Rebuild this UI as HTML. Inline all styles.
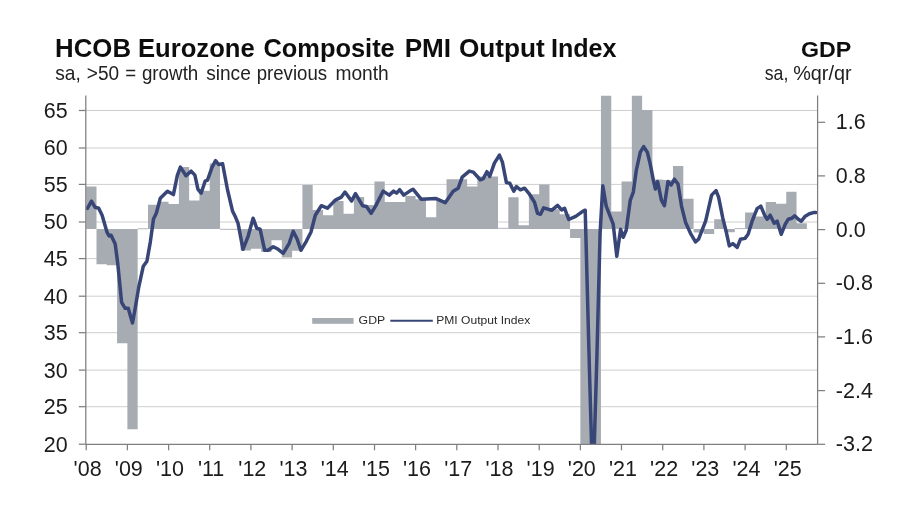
<!DOCTYPE html>
<html lang="en"><head><meta charset="utf-8"><title>HCOB Eurozone Composite PMI Output Index</title>
<style>html,body{margin:0;padding:0;background:#fff}body{width:900px;height:508px;overflow:hidden}svg{display:block;font-family:"Liberation Sans",sans-serif}</style></head><body>
<svg width="900" height="508" viewBox="0 0 900 508">
<defs><clipPath id="pc"><rect x="85.8" y="95.5" width="731.8" height="348.8"/></clipPath><filter id="bl" x="-5%" y="-5%" width="110%" height="110%"><feGaussianBlur stdDeviation="0.45"/></filter></defs>
<rect width="900" height="508" fill="#fff"/>
<g filter="url(#bl)">
<g stroke="#cecece" stroke-width="1">
<line x1="85.8" y1="406.7" x2="817.6" y2="406.7"/>
<line x1="85.8" y1="370.1" x2="817.6" y2="370.1"/>
<line x1="85.8" y1="332.7" x2="817.6" y2="332.7"/>
<line x1="85.8" y1="296.2" x2="817.6" y2="296.2"/>
<line x1="85.8" y1="258.6" x2="817.6" y2="258.6"/>
<line x1="85.8" y1="222.0" x2="817.6" y2="222.0"/>
<line x1="85.8" y1="184.4" x2="817.6" y2="184.4"/>
<line x1="85.8" y1="148.0" x2="817.6" y2="148.0"/>
<line x1="85.8" y1="110.5" x2="817.6" y2="110.5"/>
</g>
<g fill="#a7abb2" clip-path="url(#pc)">
<path d="M86.20,229.00 L86.20,186.60 L96.50,186.60 L96.50,264.20 L106.79,264.20 L106.79,265.20 L117.09,265.20 L117.09,343.20 L127.38,343.20 L127.38,429.20 L137.67,429.20 L137.67,229.00 L147.97,229.00 L147.97,204.70 L158.26,204.70 L158.26,201.80 L168.56,201.80 L168.56,203.90 L178.85,203.90 L178.85,167.10 L189.15,167.10 L189.15,200.60 L199.44,200.60 L199.44,190.70 L209.74,190.70 L209.74,163.50 L220.03,163.50 L220.03,229.00 L230.33,229.00 L230.33,229.00 L240.62,229.00 L240.62,250.60 L250.92,250.60 L250.92,248.70 L261.22,248.70 L261.22,251.90 L271.51,251.90 L271.51,240.30 L281.81,240.30 L281.81,257.60 L292.10,257.60 L292.10,250.70 L302.40,250.70 L302.40,185.00 L312.69,185.00 L312.69,210.00 L322.99,210.00 L322.99,215.20 L333.28,215.20 L333.28,201.00 L343.57,201.00 L343.57,213.80 L353.87,213.80 L353.87,197.00 L364.16,197.00 L364.16,205.00 L374.46,205.00 L374.46,181.60 L384.75,181.60 L384.75,202.00 L395.05,202.00 L395.05,202.00 L405.34,202.00 L405.34,196.00 L415.64,196.00 L415.64,199.20 L425.94,199.20 L425.94,217.30 L436.23,217.30 L436.23,200.20 L446.52,200.20 L446.52,179.20 L456.82,179.20 L456.82,179.20 L467.12,179.20 L467.12,186.60 L477.41,186.60 L477.41,176.50 L487.70,176.50 L487.70,176.50 L498.00,176.50 L498.00,229.00 L508.30,229.00 L508.30,197.20 L518.59,197.20 L518.59,225.30 L528.88,225.30 L528.88,194.20 L539.18,194.20 L539.18,184.60 L549.48,184.60 L549.48,209.30 L559.77,209.30 L559.77,214.30 L570.07,214.30 L570.07,238.00 L580.36,238.00 L580.36,444.00 L590.65,444.00 L590.65,444.00 L600.95,444.00 L600.95,95.50 L611.25,95.50 L611.25,211.60 L621.54,211.60 L621.54,181.50 L631.84,181.50 L631.84,95.50 L642.13,95.50 L642.13,110.00 L652.43,110.00 L652.43,179.50 L662.72,179.50 L662.72,180.00 L673.01,180.00 L673.01,165.90 L683.31,165.90 L683.31,198.70 L693.61,198.70 L693.61,232.40 L703.90,232.40 L703.90,233.90 L714.20,233.90 L714.20,219.20 L724.49,219.20 L724.49,232.20 L734.79,232.20 L734.79,229.00 L745.08,229.00 L745.08,212.60 L755.38,212.60 L755.38,216.60 L765.67,216.60 L765.67,202.10 L775.97,202.10 L775.97,203.70 L786.26,203.70 L786.26,191.70 L796.55,191.70 L796.55,223.20 L806.85,223.20 L806.85,229.00 Z"/>
<rect x="137.67" y="228.20" width="10.29" height="1.1" fill="#b9bcc1"/>
<rect x="220.03" y="228.80" width="10.29" height="1.1" fill="#b9bcc1"/>
<rect x="230.33" y="228.80" width="10.29" height="1.1" fill="#b9bcc1"/>
<rect x="498.00" y="227.80" width="10.30" height="1.1" fill="#b9bcc1"/>
<rect x="734.79" y="228.00" width="10.29" height="1.1" fill="#b9bcc1"/>
</g>
<polyline clip-path="url(#pc)" fill="none" stroke="#374577" stroke-width="3.5" stroke-linejoin="round" stroke-linecap="round" points="87.4,208.3 91.5,201.2 95.1,207.3 98.7,208.3 102.1,215.3 107.1,232.4 109.1,236.0 111.1,235.2 115.2,244.0 117.6,262.2 119.6,282.2 121.6,302.3 125.2,308.3 128.2,308.3 132.5,323.0 135.2,308.3 138.9,286.3 143.3,266.2 146.9,261.2 150.3,242.1 153.5,219.0 156.3,213.3 160.3,198.2 167.4,191.2 173.4,194.6 177.4,175.1 180.4,167.1 186.0,175.7 191.1,171.1 194.9,175.1 197.9,189.2 201.1,193.2 205.1,181.2 207.5,180.2 212.1,167.1 215.6,160.7 218.6,164.5 222.6,163.7 227.6,190.2 232.6,211.3 235.6,217.3 238.0,223.2 243.0,249.3 248.1,236.3 253.1,218.2 256.7,228.2 260.1,229.2 264.7,250.3 268.1,250.3 273.2,246.7 278.2,249.3 283.2,253.3 289.2,243.3 293.2,231.2 297.2,239.3 300.9,250.3 306.3,241.3 310.9,232.2 315.3,215.2 321.3,205.7 327.4,208.2 335.4,200.1 341.4,197.1 345.0,192.1 351.5,201.1 355.5,193.7 362.5,205.7 366.5,206.5 371.1,213.2 375.6,206.1 383.2,191.1 389.2,195.1 393.6,191.1 396.6,193.1 399.7,189.7 403.7,195.1 409.7,191.1 413.0,189.2 421.1,199.2 436.1,198.6 445.2,202.7 453.2,191.2 458.2,188.2 462.2,177.1 469.3,171.1 473.3,172.1 480.3,179.8 483.3,178.6 486.9,171.7 489.7,176.5 494.4,163.1 499.4,155.1 502.4,162.1 506.4,182.6 509.8,183.2 513.8,191.2 516.4,186.6 520.5,189.8 524.5,188.2 529.5,194.2 534.5,202.2 537.5,213.3 540.5,214.3 543.6,207.9 551.6,210.3 557.6,205.3 561.6,209.9 564.6,208.3 568.7,219.5 575.7,216.3 582.7,211.3 585.2,210.2 589.5,372.0 592.9,491.0 596.9,356.0 600.1,233.0 602.8,185.7 606.2,206.1 613.2,224.2 616.8,256.3 620.6,229.2 623.2,237.3 626.2,230.2 630.3,200.1 633.3,192.1 636.3,170.3 640.3,152.2 643.7,146.6 647.3,152.2 650.3,164.3 653.4,180.4 655.4,189.0 657.6,181.6 661.4,200.1 664.4,205.7 668.0,181.6 671.2,185.0 674.4,179.2 678.0,184.0 681.5,206.1 685.5,222.2 690.5,233.3 695.5,241.9 698.5,239.3 705.6,221.2 711.6,195.1 716.0,190.6 718.6,197.1 722.8,218.2 726.3,232.2 729.3,245.9 732.8,243.6 737.2,247.3 740.4,239.3 745.0,238.4 748.1,234.3 752.1,221.2 757.1,208.6 760.8,206.1 764.6,215.2 767.2,219.2 770.2,215.2 774.2,223.2 777.2,221.2 781.2,234.3 785.3,224.2 788.3,219.2 791.9,218.2 794.7,215.8 798.3,219.2 801.3,221.2 805.3,216.2 809.4,213.8 813.4,212.6 816.0,212.6"/>
<g stroke="#7f7f7f" stroke-width="1.25" fill="none">
<line x1="85.8" y1="95.5" x2="85.8" y2="444.3"/>
<line x1="817.6" y1="95.5" x2="817.6" y2="444.3"/>
<line x1="85.8" y1="444.3" x2="817.6" y2="444.3"/>
<line x1="78.8" y1="444.2" x2="85.8" y2="444.2"/>
<line x1="78.8" y1="406.7" x2="85.8" y2="406.7"/>
<line x1="78.8" y1="370.1" x2="85.8" y2="370.1"/>
<line x1="78.8" y1="332.7" x2="85.8" y2="332.7"/>
<line x1="78.8" y1="296.2" x2="85.8" y2="296.2"/>
<line x1="78.8" y1="258.6" x2="85.8" y2="258.6"/>
<line x1="78.8" y1="222.0" x2="85.8" y2="222.0"/>
<line x1="78.8" y1="184.4" x2="85.8" y2="184.4"/>
<line x1="78.8" y1="148.0" x2="85.8" y2="148.0"/>
<line x1="78.8" y1="110.5" x2="85.8" y2="110.5"/>
<line x1="817.6" y1="122.3" x2="825.1" y2="122.3"/>
<line x1="817.6" y1="175.9" x2="825.1" y2="175.9"/>
<line x1="817.6" y1="229.6" x2="825.1" y2="229.6"/>
<line x1="817.6" y1="283.3" x2="825.1" y2="283.3"/>
<line x1="817.6" y1="336.9" x2="825.1" y2="336.9"/>
<line x1="817.6" y1="390.6" x2="825.1" y2="390.6"/>
<line x1="817.6" y1="444.3" x2="825.1" y2="444.3"/>
<line x1="86.2" y1="444.3" x2="86.2" y2="450.3"/>
<line x1="127.4" y1="444.3" x2="127.4" y2="450.3"/>
<line x1="168.6" y1="444.3" x2="168.6" y2="450.3"/>
<line x1="209.7" y1="444.3" x2="209.7" y2="450.3"/>
<line x1="250.9" y1="444.3" x2="250.9" y2="450.3"/>
<line x1="292.1" y1="444.3" x2="292.1" y2="450.3"/>
<line x1="333.3" y1="444.3" x2="333.3" y2="450.3"/>
<line x1="374.5" y1="444.3" x2="374.5" y2="450.3"/>
<line x1="415.6" y1="444.3" x2="415.6" y2="450.3"/>
<line x1="456.8" y1="444.3" x2="456.8" y2="450.3"/>
<line x1="498.0" y1="444.3" x2="498.0" y2="450.3"/>
<line x1="539.2" y1="444.3" x2="539.2" y2="450.3"/>
<line x1="580.4" y1="444.3" x2="580.4" y2="450.3"/>
<line x1="621.5" y1="444.3" x2="621.5" y2="450.3"/>
<line x1="662.7" y1="444.3" x2="662.7" y2="450.3"/>
<line x1="703.9" y1="444.3" x2="703.9" y2="450.3"/>
<line x1="745.1" y1="444.3" x2="745.1" y2="450.3"/>
<line x1="786.3" y1="444.3" x2="786.3" y2="450.3"/>
</g>
<g fill="#1a1a1a" font-size="21.5px">
<text transform="translate(67.6,451.6) scale(1,1.03)" text-anchor="end">20</text>
<text transform="translate(67.6,414.1) scale(1,1.03)" text-anchor="end">25</text>
<text transform="translate(67.6,377.5) scale(1,1.03)" text-anchor="end">30</text>
<text transform="translate(67.6,340.1) scale(1,1.03)" text-anchor="end">35</text>
<text transform="translate(67.6,303.6) scale(1,1.03)" text-anchor="end">40</text>
<text transform="translate(67.6,266.0) scale(1,1.03)" text-anchor="end">45</text>
<text transform="translate(67.6,229.4) scale(1,1.03)" text-anchor="end">50</text>
<text transform="translate(67.6,191.8) scale(1,1.03)" text-anchor="end">55</text>
<text transform="translate(67.6,155.4) scale(1,1.03)" text-anchor="end">60</text>
<text transform="translate(67.6,117.9) scale(1,1.03)" text-anchor="end">65</text>
<text transform="translate(835.8,129.3) scale(1,1.02)" text-anchor="start">1.6</text>
<text transform="translate(835.8,182.9) scale(1,1.02)" text-anchor="start">0.8</text>
<text transform="translate(835.8,236.6) scale(1,1.02)" text-anchor="start">0.0</text>
<text transform="translate(835.8,290.3) scale(1,1.02)" text-anchor="start">-0.8</text>
<text transform="translate(835.8,343.9) scale(1,1.02)" text-anchor="start">-1.6</text>
<text transform="translate(835.8,397.6) scale(1,1.02)" text-anchor="start">-2.4</text>
<text transform="translate(835.8,451.3) scale(1,1.02)" text-anchor="start">-3.2</text>
<text transform="translate(87.6,476.2) scale(1,1.02)" text-anchor="middle">'08</text>
<text transform="translate(128.8,476.2) scale(1,1.02)" text-anchor="middle">'09</text>
<text transform="translate(170.0,476.2) scale(1,1.02)" text-anchor="middle">'10</text>
<text transform="translate(211.1,476.2) scale(1,1.02)" text-anchor="middle">'11</text>
<text transform="translate(252.3,476.2) scale(1,1.02)" text-anchor="middle">'12</text>
<text transform="translate(293.5,476.2) scale(1,1.02)" text-anchor="middle">'13</text>
<text transform="translate(334.7,476.2) scale(1,1.02)" text-anchor="middle">'14</text>
<text transform="translate(375.9,476.2) scale(1,1.02)" text-anchor="middle">'15</text>
<text transform="translate(417.0,476.2) scale(1,1.02)" text-anchor="middle">'16</text>
<text transform="translate(458.2,476.2) scale(1,1.02)" text-anchor="middle">'17</text>
<text transform="translate(499.4,476.2) scale(1,1.02)" text-anchor="middle">'18</text>
<text transform="translate(540.6,476.2) scale(1,1.02)" text-anchor="middle">'19</text>
<text transform="translate(581.8,476.2) scale(1,1.02)" text-anchor="middle">'20</text>
<text transform="translate(622.9,476.2) scale(1,1.02)" text-anchor="middle">'21</text>
<text transform="translate(664.1,476.2) scale(1,1.02)" text-anchor="middle">'22</text>
<text transform="translate(705.3,476.2) scale(1,1.02)" text-anchor="middle">'23</text>
<text transform="translate(746.5,476.2) scale(1,1.02)" text-anchor="middle">'24</text>
<text transform="translate(787.7,476.2) scale(1,1.02)" text-anchor="middle">'25</text>
</g>
<rect x="312.2" y="318" width="41.4" height="5.8" fill="#a7abb2"/>
<line x1="390.3" y1="320.7" x2="432.8" y2="320.7" stroke="#374577" stroke-width="2"/>
<g fill="#2a2a2a" font-size="11.7px"><text x="358.6" y="324.4" textLength="26.6" lengthAdjust="spacingAndGlyphs">GDP</text><text x="436.2" y="324.4" textLength="94" lengthAdjust="spacingAndGlyphs">PMI Output Index</text></g>
<g fill="#111">
<text transform="translate(55.10,56.6) scale(1,1.04)" font-size="25.5px" font-weight="bold" textLength="75.90" lengthAdjust="spacingAndGlyphs">HCOB</text>
<text transform="translate(138.00,56.6) scale(1,1.04)" font-size="25.5px" font-weight="bold" textLength="116.75" lengthAdjust="spacingAndGlyphs">Eurozone</text>
<text transform="translate(263.40,56.6) scale(1,1.04)" font-size="25.5px" font-weight="bold" textLength="131.35" lengthAdjust="spacingAndGlyphs">Composite</text>
<text transform="translate(404.65,56.6) scale(1,1.04)" font-size="25.5px" font-weight="bold" textLength="46.35" lengthAdjust="spacingAndGlyphs">PMI</text>
<text transform="translate(458.90,56.6) scale(1,1.04)" font-size="25.5px" font-weight="bold" textLength="85.85" lengthAdjust="spacingAndGlyphs">Output</text>
<text transform="translate(550.90,56.6) scale(1,1.04)" font-size="25.5px" font-weight="bold" textLength="65.60" lengthAdjust="spacingAndGlyphs">Index</text>
<text transform="translate(55.20,79.8) scale(1,1.10)" font-size="18.6px" fill="#222" textLength="25.60" lengthAdjust="spacingAndGlyphs">sa,</text>
<text transform="translate(86.80,79.8) scale(1,1.10)" font-size="18.6px" fill="#222" textLength="32.30" lengthAdjust="spacingAndGlyphs">&gt;50</text>
<text transform="translate(125.20,79.8) scale(1,1.10)" font-size="18.6px" fill="#222" textLength="10.90" lengthAdjust="spacingAndGlyphs">=</text>
<text transform="translate(141.90,79.8) scale(1,1.10)" font-size="18.6px" fill="#222" textLength="56.40" lengthAdjust="spacingAndGlyphs">growth</text>
<text transform="translate(206.20,79.8) scale(1,1.10)" font-size="18.6px" fill="#222" textLength="44.60" lengthAdjust="spacingAndGlyphs">since</text>
<text transform="translate(256.70,79.8) scale(1,1.10)" font-size="18.6px" fill="#222" textLength="70.35" lengthAdjust="spacingAndGlyphs">previous</text>
<text transform="translate(335.45,79.8) scale(1,1.10)" font-size="18.6px" fill="#222" textLength="53.35" lengthAdjust="spacingAndGlyphs">month</text>
<text transform="translate(800.90,57.0) scale(1,0.97)" font-size="22px" font-weight="bold" textLength="50.30" lengthAdjust="spacingAndGlyphs">GDP</text>
<text transform="translate(764.70,79.8) scale(1,1.10)" font-size="18.6px" fill="#222" textLength="23.60" lengthAdjust="spacingAndGlyphs">sa,</text>
<text transform="translate(793.20,79.8) scale(1,1.10)" font-size="18.6px" fill="#222" textLength="58.40" lengthAdjust="spacingAndGlyphs">%qr/qr</text>
</g>
</g>
</svg></body></html>
